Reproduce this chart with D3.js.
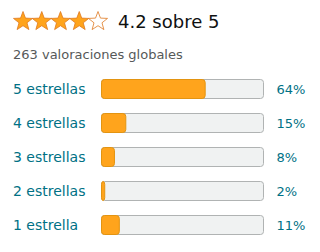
<!DOCTYPE html>
<html><head><meta charset="utf-8">
<script src="https://cdn.jsdelivr.net/npm/d3@7"></script>
<style>html,body{margin:0;padding:0;background:#fff;}svg{display:block;}</style>
</head><body>
<script>
const categories = ["5 estrellas","4 estrellas","3 estrellas","2 estrellas","1 estrella"];
const percents = [64,15,8,2,11];
const rating = 4.2;
const ratingText = "4.2 sobre 5";
const totalText = "263 valoraciones globales";
const starCount = [1,2,3,4,5];

const W=320,H=252;
const svg=d3.select("body").append("svg").attr("width",W).attr("height",H);
const font="DejaVu Sans, sans-serif";

// stars
const xs=d3.scaleLinear().domain([1,5]).range([23,98]);
function starPath(cx,cy,R,r){
  const pts=[];
  for(let i=0;i<10;i++){
    const a=-Math.PI/2+i*Math.PI/5;
    const rad=i%2===0?R:r;
    pts.push([cx+rad*Math.cos(a),cy+rad*Math.sin(a)]);
  }
  return "M"+pts.map(p=>p.join(",")).join("L")+"Z";
}
svg.selectAll("path.star").data(starCount).join("path")
  .attr("class","star")
  .attr("d",d=>starPath(xs(d),21.5,10,4.2))
  .attr("fill",d=>d<=Math.round(rating)?"#ffa41c":"#fff")
  .attr("stroke","#de7921")
  .attr("stroke-width",0.8)
  .attr("stroke-linejoin","round");

svg.append("text").attr("x",118).attr("y",28).attr("font-family",font)
  .attr("font-size",18).attr("fill","#0f1111").text(ratingText);
svg.append("text").attr("x",13).attr("y",59).attr("font-family",font)
  .attr("font-size",13).attr("fill","#565959").text(totalText);

const y=d3.scaleBand().domain(categories).range([72,242]).paddingInner(0.44).paddingOuter(0.22);
const x=d3.scaleLinear().domain([0,100]).range([101.5,263.5]);

const rows=svg.selectAll("g.row").data(categories).join("g").attr("class","row");
const bh=19;
const cy=d=>y(d)+y.bandwidth()/2;
rows.append("rect")
  .attr("x",x(0)).attr("y",d=>cy(d)-bh/2).attr("width",x(100)-x(0)).attr("height",bh)
  .attr("rx",3).attr("fill","#f0f2f2").attr("stroke","#b0b3b3").attr("stroke-width",1);
rows.append("rect")
  .attr("x",x(0)).attr("y",d=>cy(d)-bh/2).attr("width",(d,i)=>x(percents[i])-x(0)).attr("height",bh)
  .attr("rx",3).attr("fill","#ffa41c").attr("stroke","#e39411").attr("stroke-width",1);
rows.append("text").attr("x",13).attr("y",d=>cy(d)+5).attr("font-family",font)
  .attr("font-size",14).attr("fill","#007185").text(d=>d);
rows.append("text").attr("x",276.5).attr("y",d=>cy(d)+5).attr("font-family",font)
  .attr("font-size",13).attr("fill","#007185").text((d,i)=>percents[i]+"%");
</script>
</body></html>
